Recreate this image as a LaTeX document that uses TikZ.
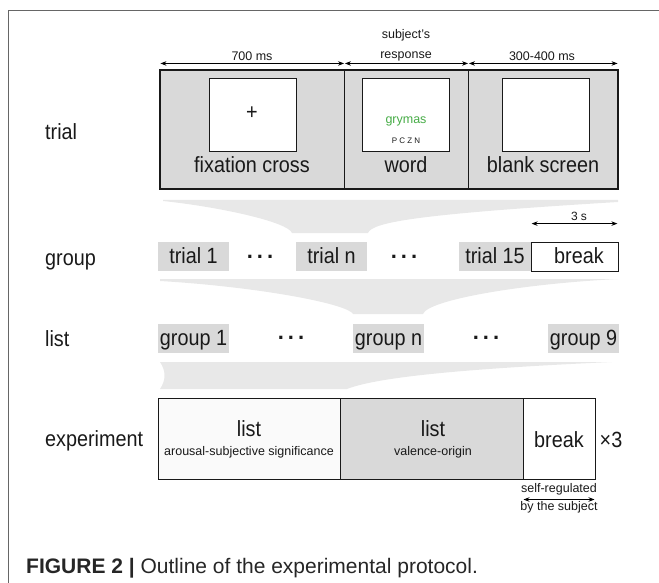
\documentclass[tikz,border=0pt]{standalone}
\usepackage{fontspec}
\setmainfont{Liberation Sans}
\newfontfamily\narrowsans[FakeStretch=0.9]{Liberation Sans}
\usetikzlibrary{arrows.meta}
\definecolor{boxgray}{gray}{0.85}
\definecolor{fungray}{gray}{0.91}
\definecolor{inkgray}{gray}{0.1}
\definecolor{wordgreen}{RGB}{70,172,70}
\begin{document}
\begin{tikzpicture}[x=1pt, y=-1pt,
  every node/.style={font=\narrowsans\fontsize{22}{24}\selectfont, text=inkgray, inner sep=0pt},
  lbl/.style={font=\fontsize{12.5}{20}\selectfont},
  panel/.style={draw=inkgray, line width=1.1pt, fill=boxgray, minimum height=119pt},
  screen/.style={draw=inkgray, line width=0.9pt, fill=white, minimum width=87pt, minimum height=73pt},
  cell/.style={fill=boxgray, minimum width=71pt, minimum height=29pt, text height=15pt, text depth=2pt},
  expbox/.style={draw=inkgray, line width=1pt, minimum height=81pt},
  dur/.style={{Stealth[length=6pt,width=4.5pt]}-{Stealth[length=6pt,width=4.5pt]}, line width=0.8pt, black, shorten <=1pt, shorten >=1pt},
  dotrow/.style={font=\fontsize{22}{24}\selectfont\bfseries}]
  \useasboundingbox (0,0) rectangle (659,583);
  \draw[black!60, line width=0.9pt] (659,10) -- (8,10) -- (8,583);

  % row labels
  \node[anchor=base west] (ltrial) at (45,140) {trial};
  \node[anchor=base west] (lgroup) at (45,265) {group};
  \node[anchor=base west] (llist) at (45,346) {list};
  \node[anchor=base west] (lexp) at (45,446) {experiment};

  % trial
  \node[panel, minimum width=184.5pt] (fix) at (252.25,129.5) {};
  \node[panel, minimum width=124pt] (word) at (406.5,129.5) {};
  \node[panel, minimum width=149.5pt] (blank) at (543.25,129.5) {};
  \node[screen] (fixscr) at (252.5,114.5) {};
  \node[screen] (wordscr) at (406,114.5) {};
  \node[screen] (blankscr) at (545.5,114.5) {};
  \node (plus) at (252,113) {+};
  \node[lbl, text=wordgreen, anchor=base] (grymas) at (406,124) {grymas};
  \node[font=\fontsize{8}{10}\selectfont, anchor=base] (keys) at (406,144) {P C Z N};
  \node[anchor=base] (fixlbl) at (252,173) {fixation cross};
  \node[anchor=base] (wordlbl) at (406,173) {word};
  \node[anchor=base] (blanklbl) at (543,173) {blank screen};
  \draw[dur] ([yshift=6pt]fix.north west) -- ([yshift=6pt]fix.north east);
  \draw[dur] ([yshift=6pt]word.north west) -- ([yshift=6pt]word.north east);
  \draw[dur] ([yshift=6pt]blank.north west) -- ([yshift=6pt]blank.north east);
  \node[lbl, anchor=base] (t700) at (252,61) {700 ms};
  \node[lbl, align=center, anchor=south] (tresp) at (406,61) {subject's\\response};
  \node[lbl, anchor=base] (t300) at (542,61) {300-400 ms};

  % funnels
  \fill[fungray] (163,200) -- (618,200) -- (618,202) .. controls (420,214) and (372,222) .. (368,233)
    -- (292,233) .. controls (288,222) and (220,207) .. (163,201) -- cycle;
  \fill[fungray] (160,279) -- (618,279) .. controls (520,284) and (428,300) .. (423,314)
    -- (353,314) .. controls (348,304) and (260,287) .. (160,281) -- cycle;
  \fill[fungray] (160,362) -- (612,362) .. controls (480,368) and (380,376) .. (347,389)
    -- (160,389) .. controls (166,380) and (166,371) .. (160,362) -- cycle;

  % group
  \node[cell] (tr1) at (193.5,256.5) {trial 1};
  \node[dotrow] (dotsA) at (260,257) {.\kern4pt.\kern4pt.};
  \node[cell] (trn) at (331.5,256.5) {trial n};
  \node[dotrow] (dotsB) at (404,257) {.\kern4pt.\kern4pt.};
  \node[cell, minimum width=72pt] (tr15) at (495,256.5) {trial 15};
  \node[cell, fill=white, draw=inkgray, line width=0.8pt, minimum width=87pt] (brk) at (574.5,256.5) {\hspace*{9pt}break};
  \draw[dur] ([yshift=18pt]brk.north west) -- ([yshift=18pt]brk.north east);
  \node[lbl, font=\fontsize{12}{14}\selectfont, anchor=base] (t3s) at (579,221) {3 s};

  % list
  \node[cell] (gr1) at (193.5,338.5) {group 1};
  \node[dotrow] (dotsC) at (291,338) {.\kern4pt.\kern4pt.};
  \node[cell] (grn) at (388.5,338.5) {group n};
  \node[dotrow] (dotsD) at (486,338) {.\kern4pt.\kern4pt.};
  \node[cell] (gr9) at (583.5,338.5) {group 9};

  % experiment
  \node[expbox, fill=black!2, minimum width=182pt] (ex1) at (249,438.5) {};
  \node[expbox, fill=boxgray, minimum width=183pt] (ex2) at (431.5,438.5) {};
  \node[expbox, fill=white, minimum width=72pt] (ex3) at (559,438.5) {};
  \node[anchor=base] (ex1top) at (249,436) {list};
  \node[lbl, anchor=base] (ex1sub) at (249,455) {arousal-subjective significance};
  \node[anchor=base] (ex2top) at (433,436) {list};
  \node[lbl, anchor=base] (ex2sub) at (433,455) {valence-origin};
  \node[anchor=base] (ex3lbl) at (559,447) {break};
  \node[anchor=base] (times) at (611,447) {×3};
  \node[lbl, anchor=base] (selfreg) at (559,492) {self-regulated};
  \draw[dur] ([yshift=-20pt]ex3.south west) -- ([yshift=-20pt]ex3.south east);
  \node[lbl, anchor=base] (bysubj) at (559,510) {by the subject};

  % caption
  \node[anchor=base west, font=\fontsize{21}{24}\selectfont, text=black!85] (cap) at (26,573) {\textbf{FIGURE 2 |} Outline of the experimental protocol.};
\end{tikzpicture}
\end{document}
